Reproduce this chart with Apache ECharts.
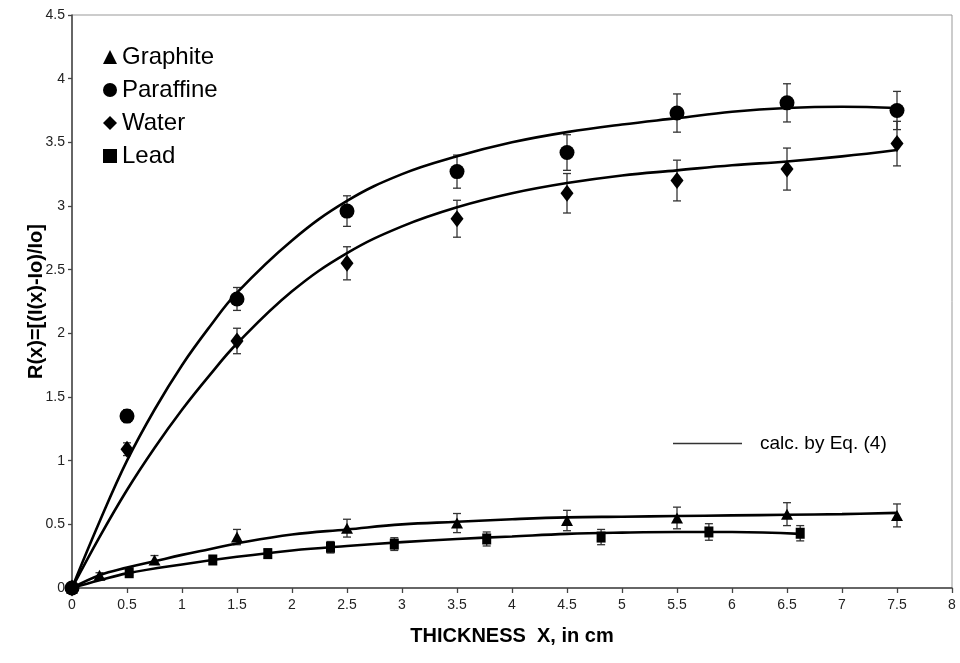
<!DOCTYPE html>
<html>
<head>
<meta charset="utf-8">
<script src="https://cdn.jsdelivr.net/npm/echarts@6/dist/echarts.min.js"></script>
<style>
html, body { margin: 0; padding: 0; background: #fff; }
#chart { width: 960px; height: 663px; }
</style>
</head>
<body>
<div id="chart"></div>
<script>
// measured points (x in cm, R(x)) and error bar half-heights
var graphiteX = [0, 0.25, 0.75, 1.5, 2.5, 3.5, 4.5, 5.5, 6.5, 7.5];
var graphiteY = [0, 0.10, 0.22, 0.40, 0.47, 0.51, 0.53, 0.55, 0.58, 0.57];
var graphiteErr = [0, 0.02, 0.035, 0.06, 0.07, 0.075, 0.08, 0.085, 0.09, 0.09];

var paraffinX = [0, 0.5, 1.5, 2.5, 3.5, 4.5, 5.5, 6.5, 7.5];
var paraffinY = [0, 1.35, 2.27, 2.96, 3.27, 3.42, 3.73, 3.81, 3.75];
var paraffinErr = [0, 0.05, 0.09, 0.12, 0.13, 0.14, 0.15, 0.15, 0.15];

var waterX = [0, 0.5, 1.5, 2.5, 3.5, 4.5, 5.5, 6.5, 7.5];
var waterY = [0, 1.09, 1.94, 2.55, 2.90, 3.10, 3.20, 3.29, 3.49];
var waterErr = [0, 0.05, 0.10, 0.13, 0.145, 0.155, 0.16, 0.165, 0.175];

var leadX = [0, 0.52, 1.28, 1.78, 2.35, 2.93, 3.77, 4.81, 5.79, 6.62];
var leadY = [0, 0.12, 0.22, 0.27, 0.32, 0.345, 0.385, 0.40, 0.44, 0.43];
var leadErr = [0, 0.02, 0.03, 0.035, 0.045, 0.05, 0.055, 0.06, 0.065, 0.06];

// calc. by Eq. (4) curves
var calcX = [0, 0.25, 0.5, 0.75, 1, 1.25, 1.5, 2, 2.5, 3, 3.5, 4, 4.5, 5, 5.5, 6, 6.5, 7, 7.5];
var calcParaffin = [0, 0.52, 1.00, 1.40, 1.75, 2.05, 2.32, 2.73, 3.04, 3.25, 3.39, 3.50, 3.58, 3.64, 3.69, 3.74, 3.77, 3.78, 3.77];
var calcWater = [0, 0.40, 0.77, 1.10, 1.40, 1.67, 1.92, 2.33, 2.63, 2.84, 2.99, 3.10, 3.18, 3.24, 3.28, 3.32, 3.35, 3.39, 3.44];
var calcGraphite = [0, 0.10, 0.16, 0.21, 0.26, 0.305, 0.35, 0.42, 0.46, 0.50, 0.52, 0.54, 0.555, 0.56, 0.565, 0.57, 0.575, 0.58, 0.59];
var calcLeadX = [0, 0.25, 0.5, 1, 1.5, 2, 2.5, 3, 3.5, 4, 4.5, 5, 5.5, 6, 6.62];
var calcLead = [0, 0.06, 0.115, 0.185, 0.245, 0.295, 0.33, 0.36, 0.385, 0.405, 0.425, 0.435, 0.44, 0.44, 0.425];

var xTicks = { min: 0, max: 8, interval: 0.5 };
var yTicks = { min: 0, max: 4.5, interval: 0.5 };

var FONT = '"Liberation Sans", Arial, sans-serif';
var calcName = 'calc. by Eq. (4)';

function pairs(xs, ys) {
    return xs.map(function (x, i) { return [x, ys[i]]; });
}

function bars(xs, ys, errs) {
    return xs.map(function (x, i) { return [x, ys[i] - errs[i], ys[i] + errs[i]]; });
}

function renderBar(params, api) {
    var x = api.value(0);
    var lo = api.coord([x, api.value(1)]);
    var hi = api.coord([x, api.value(2)]);
    var w = 4;
    var st = { stroke: '#333', lineWidth: 1.3 };
    return {
        type: 'group',
        children: [
            { type: 'line', shape: { x1: lo[0], y1: lo[1], x2: hi[0], y2: hi[1] }, style: st },
            { type: 'line', shape: { x1: lo[0] - w, y1: lo[1], x2: lo[0] + w, y2: lo[1] }, style: st },
            { type: 'line', shape: { x1: hi[0] - w, y1: hi[1], x2: hi[0] + w, y2: hi[1] }, style: st }
        ]
    };
}

function errSeries(xs, ys, errs) {
    return {
        type: 'custom',
        name: 'err',
        renderItem: renderBar,
        data: bars(xs, ys, errs),
        z: 1,
        silent: true
    };
}

function pointSeries(name, xs, ys, symbol, size) {
    return {
        type: 'scatter',
        name: name,
        data: pairs(xs, ys),
        symbol: symbol,
        symbolSize: size,
        itemStyle: { color: '#000', opacity: 1 },
        z: 3
    };
}

function calcSeries(xs, ys) {
    return {
        type: 'line',
        name: calcName,
        data: pairs(xs, ys),
        smooth: 0.4,
        showSymbol: false,
        symbol: 'none',
        lineStyle: { color: '#000', width: 2.6 },
        itemStyle: { color: '#333' },
        z: 4
    };
}

var chart = echarts.init(document.getElementById('chart'));
chart.setOption({
    animation: false,
    backgroundColor: '#fff',
    textStyle: { fontFamily: FONT },
    grid: {
        left: 72, right: 8, top: 15, bottom: 75,
        show: true, borderColor: '#999', borderWidth: 1
    },
    legend: [{
        orient: 'vertical',
        left: 98,
        top: 40,
        itemWidth: 14,
        itemHeight: 14,
        itemGap: 9,
        selectedMode: false,
        textStyle: { fontSize: 24, lineHeight: 24, color: '#000', fontFamily: FONT },
        data: [
            { name: 'Graphite', icon: 'triangle' },
            { name: 'Paraffine', icon: 'circle' },
            { name: 'Water', icon: 'diamond' },
            { name: 'Lead', icon: 'rect' }
        ]
    }, {
        left: 668,
        top: 429,
        itemWidth: 69,
        itemHeight: 1.5,
        selectedMode: false,
        textStyle: { fontSize: 19, color: '#000', fontFamily: FONT, padding: [0, 0, 0, 13] },
        data: [{ name: calcName, icon: 'rect', itemStyle: { color: '#333' } }]
    }],
    xAxis: {
        type: 'value',
        min: xTicks.min,
        max: xTicks.max,
        interval: xTicks.interval,
        name: 'THICKNESS  X, in cm',
        nameLocation: 'middle',
        nameGap: 38,
        nameMoveOverlap: false,
        nameTextStyle: { fontSize: 20, fontWeight: 'bold', color: '#000', fontFamily: FONT },
        axisLine: { lineStyle: { color: '#444', width: 1.5 } },
        axisTick: { length: 5, lineStyle: { color: '#444', width: 1.3 } },
        axisLabel: { fontSize: 14, color: '#222', margin: 10 },
        splitLine: { show: false }
    },
    yAxis: {
        type: 'value',
        min: yTicks.min,
        max: yTicks.max,
        interval: yTicks.interval,
        name: 'R(x)=[(I(x)-Io)/Io]',
        nameLocation: 'middle',
        nameGap: 26,
        nameMoveOverlap: false,
        nameTextStyle: { fontSize: 20, fontWeight: 'bold', color: '#000', fontFamily: FONT },
        axisLine: { show: true, lineStyle: { color: '#444', width: 1.5 } },
        axisTick: { show: true, length: 4, lineStyle: { color: '#444', width: 1.3 } },
        axisLabel: { fontSize: 14, color: '#222', margin: 7 },
        splitLine: { show: false }
    },
    series: [
        errSeries(graphiteX, graphiteY, graphiteErr),
        errSeries(paraffinX, paraffinY, paraffinErr),
        errSeries(waterX, waterY, waterErr),
        errSeries(leadX, leadY, leadErr),
        pointSeries('Graphite', graphiteX, graphiteY, 'triangle', [12, 11]),
        pointSeries('Paraffine', paraffinX, paraffinY, 'circle', 15),
        pointSeries('Water', waterX, waterY, 'diamond', [13, 17]),
        pointSeries('Lead', leadX, leadY, 'rect', [9, 11]),
        calcSeries(calcX, calcParaffin),
        calcSeries(calcX, calcWater),
        calcSeries(calcX, calcGraphite),
        calcSeries(calcLeadX, calcLead)
    ]
});
</script>
</body>
</html>
